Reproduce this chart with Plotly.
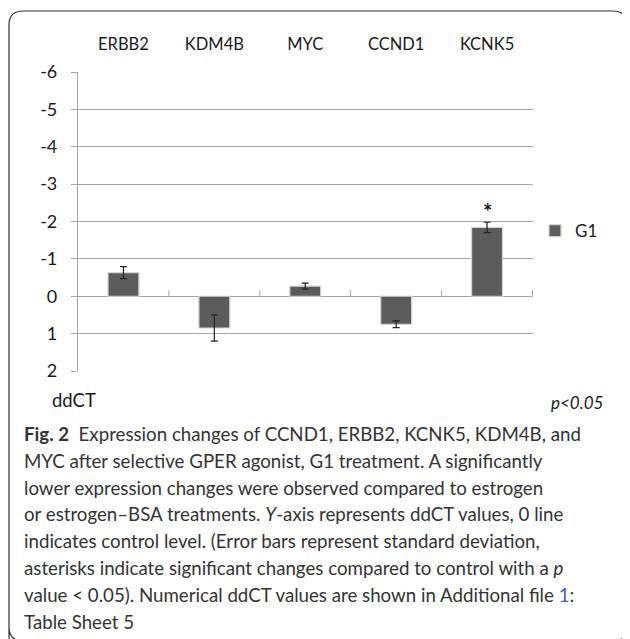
import plotly.graph_objects as go

# ---- data ----
genes = ["ERBB2", "KDM4B", "MYC", "CCND1", "KCNK5"]
ddct_g1 = [-0.63, 0.85, -0.27, 0.75, -1.84]
sd_g1 = [0.16, 0.35, 0.08, 0.09, 0.14]
significant = [False, False, False, False, True]
y_ticks = [-6, -5, -4, -3, -2, -1, 0, 1, 2]
y_tick_labels = ["-6", "-5", "-4", "-3", "-2", "-1", "0", "1", "2"]
series_name = "G1"

caption_lines = [
    "<b>Fig. 2</b>  Expression changes of CCND1, ERBB2, KCNK5, KDM4B, and",
    "MYC after selective GPER agonist, G1 treatment. A significantly",
    "lower expression changes were observed compared to estrogen",
    "or estrogen–BSA treatments. <i>Y</i>-axis represents ddCT values, 0 line",
    "indicates control level. (Error bars represent standard deviation,",
    "asterisks indicate significant changes compared to control with a <i>p</i>",
    "value < 0.05). Numerical ddCT values are shown in Additional file <span style='color:#3b5fc0'>1</span>:",
    "Table Sheet 5",
]

# page body has an 8px margin; figure is sized to fill the rest of the window
OFF = 8
W, H = 630 - OFF, 639 - OFF
PLOT_L, PLOT_R, PLOT_T, PLOT_B = 78, 533, 72, 371  # window pixels
ML, MR, MT, MB = PLOT_L - OFF, 630 - PLOT_R, PLOT_T - OFF, 639 - PLOT_B
PW, PH = W - ML - MR, H - MT - MB


def px(x):
    return (x - PLOT_L) / PW


def py(y):
    return (PLOT_B - y) / PH


FONT = "Lato"
GRID = "#a6a6a6"

fig = go.Figure()
fig.add_trace(go.Bar(
    x=genes, y=ddct_g1, name=series_name, width=0.34,
    marker=dict(color="#5c5c5c", line=dict(color="#d4d4d4", width=1.2)),
    error_y=dict(type="data", array=sd_g1, visible=True, color="#222222",
                 thickness=1.2, width=3.5),
))

# significance asterisks
for g, v, e, s in zip(genes, ddct_g1, sd_g1, significant):
    if s:
        fig.add_annotation(x=g, y=v - e - 0.3, text="<b>*</b>", showarrow=False,
                           font=dict(family=FONT, size=22, color="#111"),
                           xref="x", yref="y")

shapes = []
# small tick marks on zero line at category boundaries
for i in range(len(genes)):
    shapes.append(dict(type="line", xref="x", yref="y", x0=i + 0.5, x1=i + 0.5,
                       y0=0, y1=-0.16, line=dict(color=GRID, width=1)))

# rounded outer frame
x0, x1, y0, y1, r = px(9), px(627), py(11), py(641), 14
rx, ry = r / PW, r / PH
path = (f"M {x0},{y1} L {x0},{y0 - ry} Q {x0},{y0} {x0 + rx},{y0} "
        f"L {x1 - rx},{y0} Q {x1},{y0} {x1},{y0 - ry} L {x1},{y1 + ry} "
        f"Q {x1},{y1} {x1 - rx},{y1} L {x0 + rx},{y1} Q {x0},{y1} {x0},{y1 + ry} Z")
shapes.append(dict(type="path", xref="paper", yref="paper", path=path,
                   line=dict(color="#333333", width=1.2), layer="below"))

annotations = []
annotations.append(dict(x=px(50), y=py(400), xref="paper", yref="paper", text="ddCT",
                        showarrow=False, xanchor="left", yanchor="middle",
                        font=dict(family=FONT, size=18.5, color="#1a1a1a")))
annotations.append(dict(x=px(605), y=py(402), xref="paper", yref="paper", text="<i>p<0.05</i>",
                        showarrow=False, xanchor="right", yanchor="middle",
                        font=dict(family=FONT, size=17, color="#1a1a1a")))
for i, line in enumerate(caption_lines):
    annotations.append(dict(x=px(22), y=py(434 + 26.8 * i), xref="paper", yref="paper",
                            text=line, showarrow=False, xanchor="left", yanchor="middle",
                            font=dict(family=FONT, size=18.7, color="#333333")))

fig.update_layout(
    width=W, height=H,
    margin=dict(l=ML, r=MR, t=MT, b=MB, pad=0, autoexpand=False),
    paper_bgcolor="white", plot_bgcolor="white",
    showlegend=True,
    legend=dict(x=px(535), y=py(231), xanchor="left", yanchor="middle",
                font=dict(family=FONT, size=17, color="#1a1a1a"),
                itemwidth=30, bgcolor="rgba(0,0,0,0)"),
    shapes=shapes,
    annotations=fig.layout.annotations + tuple(annotations),
)
fig.update_xaxes(side="top", showgrid=False, showline=False, ticks="",
                 tickfont=dict(family=FONT, size=16.5, color="#1a1a1a"),
                 ticklabelstandoff=18, zeroline=False)
fig.update_yaxes(range=[2, -6], tickvals=y_ticks, ticktext=y_tick_labels,
                 showgrid=True, gridcolor=GRID, gridwidth=1.2,
                 showline=True, linecolor=GRID, linewidth=1.2,
                 ticks="outside", ticklen=6, tickcolor=GRID,
                 tickfont=dict(family=FONT, size=18, color="#1a1a1a"),
                 ticklabelstandoff=10, zeroline=False)

fig.write_html("out.html")
